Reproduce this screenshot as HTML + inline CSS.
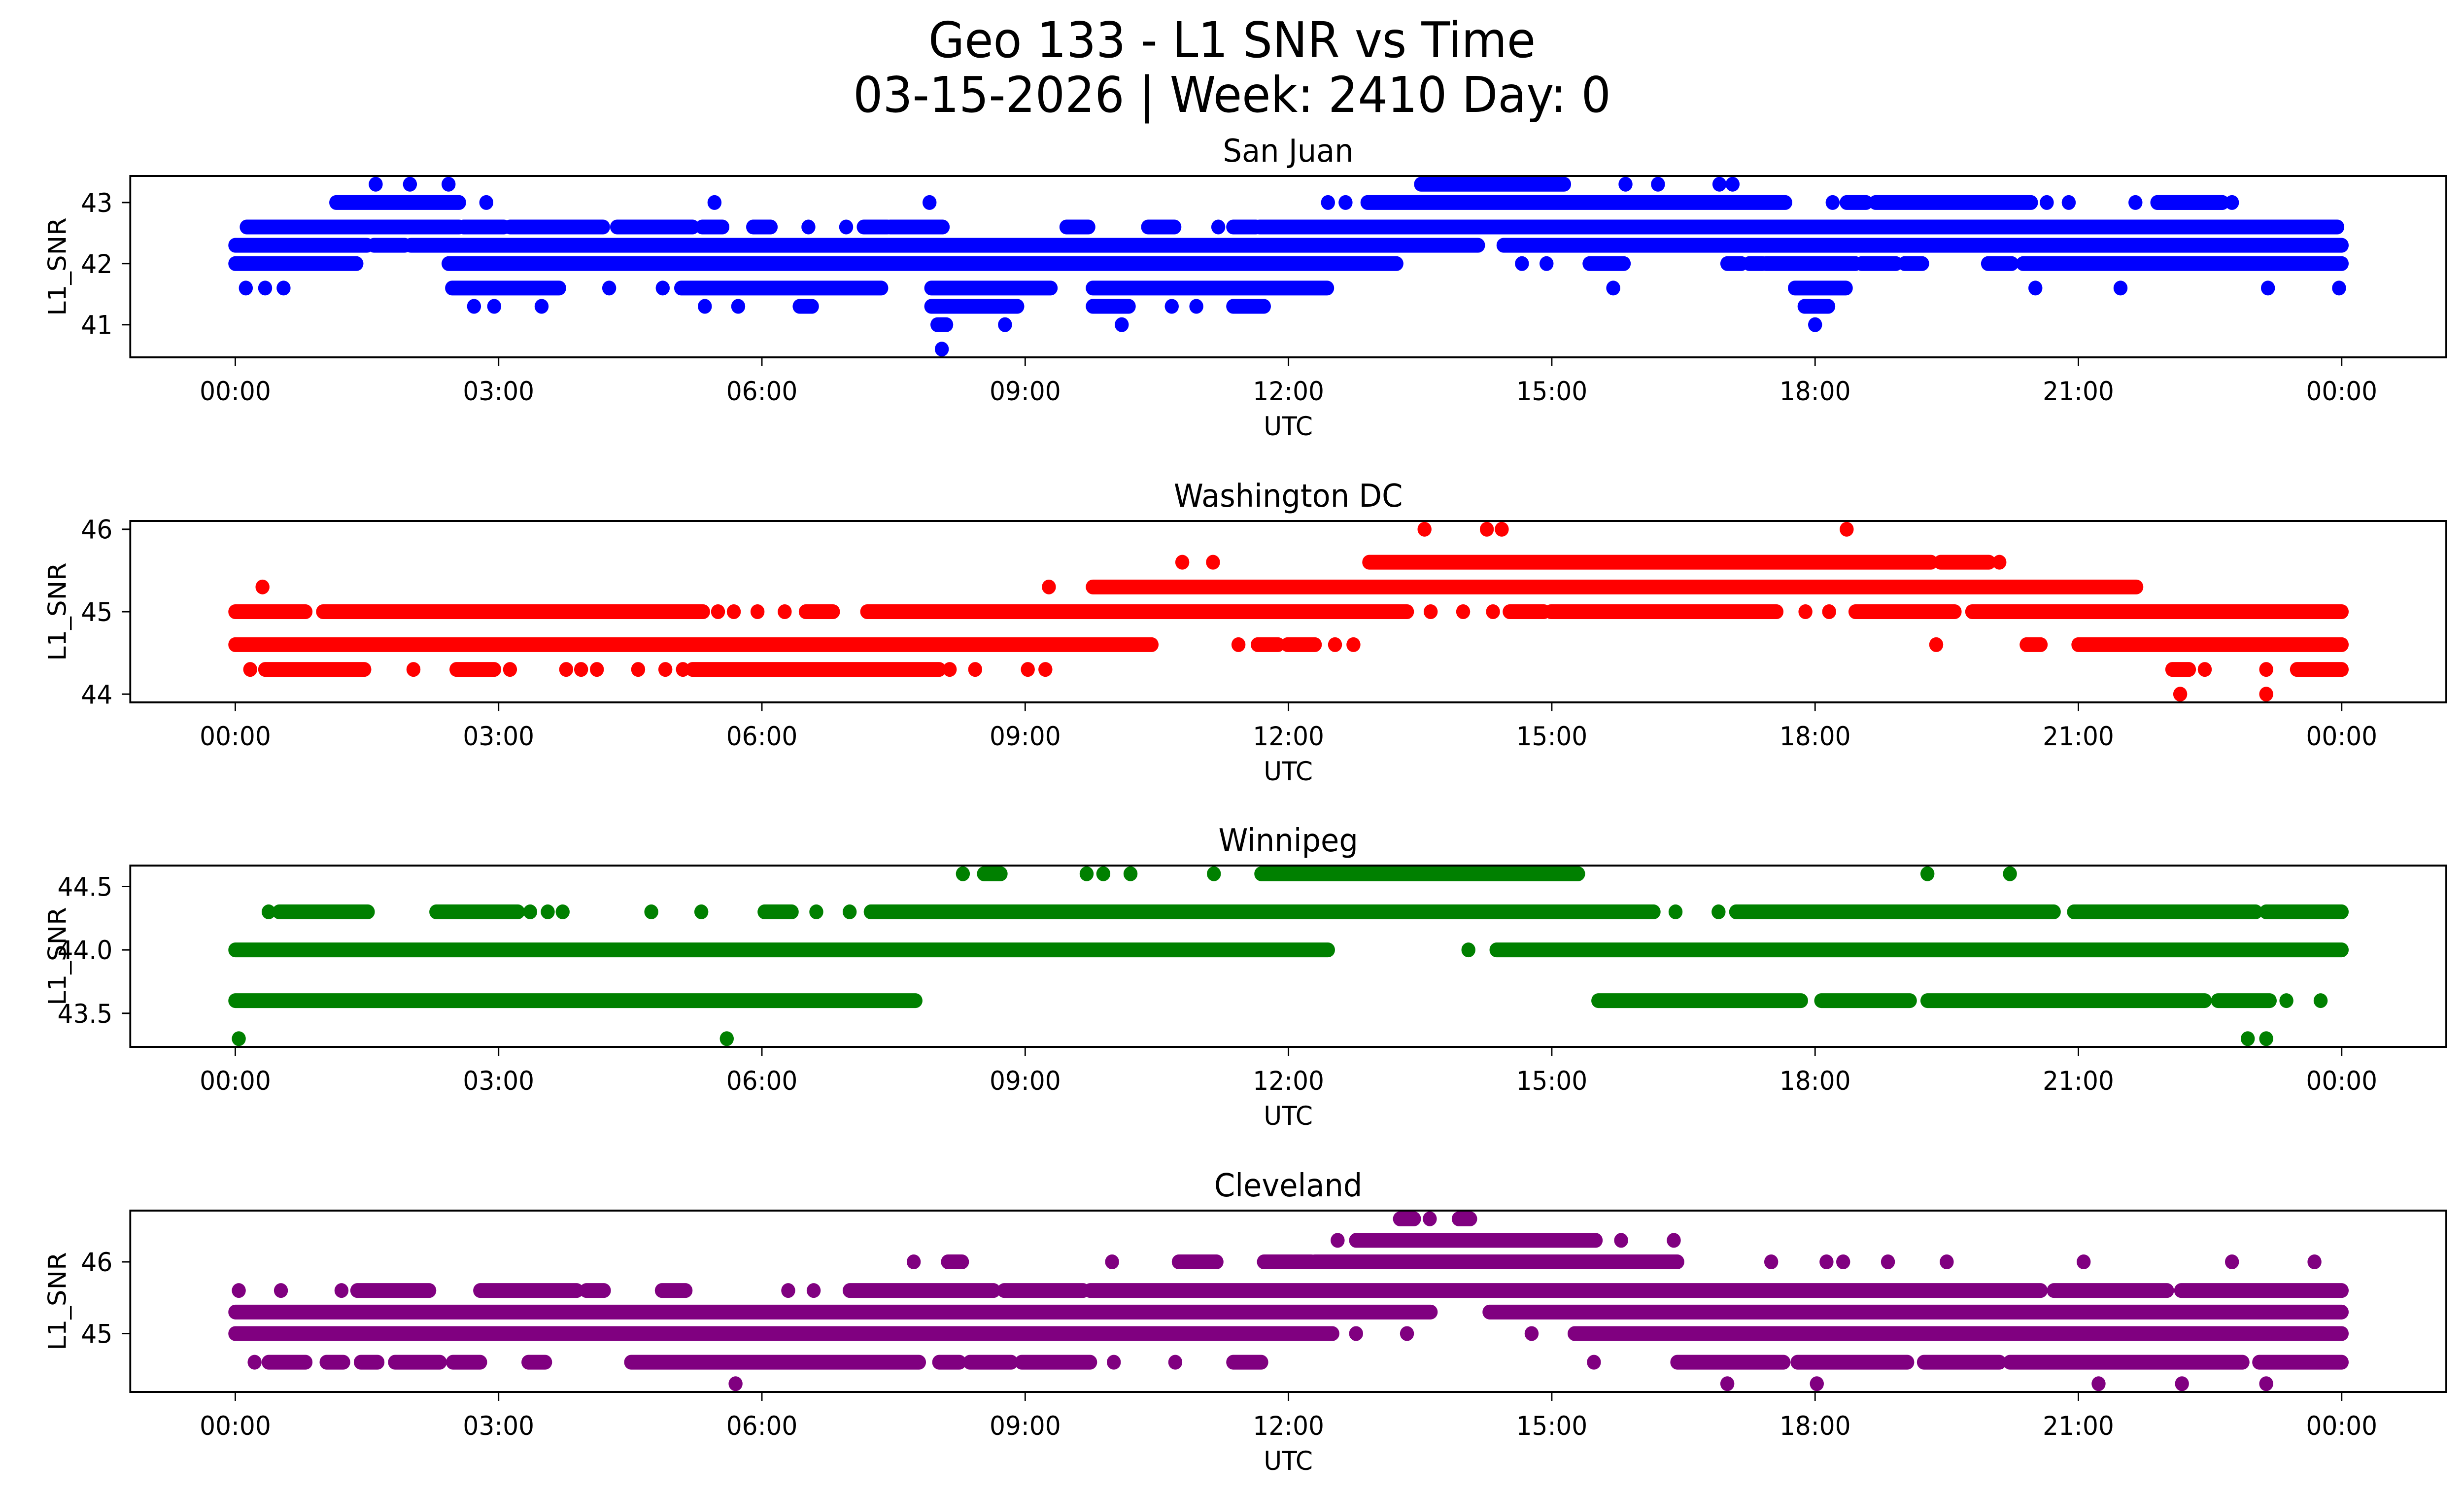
<!DOCTYPE html>
<html><head><meta charset="utf-8"><style>
html,body{margin:0;padding:0;background:#fff;overflow:hidden;width:100%;height:100%;}
svg{display:block;font-family:"DejaVu Sans","Liberation Sans",sans-serif;width:100vw;height:100vh;}
</style></head><body>
<svg id="fig" viewBox="0 0 5278 3033" preserveAspectRatio="none" xmlns="http://www.w3.org/2000/svg">
<rect x="0" y="0" width="5278" height="3033" fill="#fff"/>
<text x="2639" y="116" font-size="100" text-anchor="middle">Geo 133 - L1 SNR vs Time</text>
<text x="2639" y="227" font-size="100" text-anchor="middle">03-15-2026 | Week: 2410 Day: 0</text>
<g id="plots"></g>
</svg>
<script>
// ---- data (hours UTC, L1 SNR) ----
const panelNames = ["San Juan", "Washington DC", "Winnipeg", "Cleveland"];
const panelColors = ["#0000ff", "#ff0000", "#008000", "#800080"];
const xTickHours = [0, 3, 6, 9, 12, 15, 18, 21, 24];
const xTickLabels = ["00:00","03:00","06:00","09:00","12:00","15:00","18:00","21:00","00:00"];

// San Juan
const sjRunLevels = [43.3, 43.0,43.0,43.0,43.0,43.0,43.0, 42.6,42.6,42.6,42.6,42.6,42.6,42.6,42.6,42.6,42.6,42.6,42.6, 42.3,42.3,42.3,42.3, 42.0,42.0,42.0,42.0,42.0,42.0,42.0,42.0,42.0,42.0, 41.6,41.6,41.6,41.6,41.6, 41.3,41.3,41.3,41.3,41.3, 41.0];
const sjRunStarts = [13.51, 1.15,12.9,18.36,18.69,21.9,21.9, 0.13,2.6,3.13,4.35,5.32,5.9,7.16,7.46,9.47,10.4,11.37,11.67, 0,1.58,2.0,14.45, 0,2.43,15.43,17.0,17.25,17.44,18.53,19.02,19.97,20.37, 2.47,5.08,7.93,9.77,17.77, 6.43,7.93,9.77,11.37,17.88, 8.0];
const sjRunEnds   = [15.14, 2.55,17.66,18.58,20.46,22.64,22.64, 2.55,3.06,4.19,5.21,5.55,6.1,7.43,8.06,9.72,10.7,11.63,23.95, 1.5,1.93,14.16,24, 1.38,13.23,15.82,17.16,17.4,18.46,18.92,19.22,20.24,24, 3.69,7.36,9.29,12.44,18.35, 6.57,8.91,10.18,11.72,18.15, 8.1];
const sjPointTimes  = [1.6,1.99,2.43,15.84,16.21,16.91,17.06, 2.86,5.46,7.91,12.45,12.65,18.2,20.64,20.89,21.65,22.75, 6.53,6.96,11.2, 14.66,14.94, 0.12,0.34,0.55,4.26,4.87,15.7,20.51,21.48,23.16,23.97, 2.72,2.95,3.49,5.35,5.73,10.67,10.95, 8.77,10.1,18.0, 8.05];
const sjPointValues = [43.3,43.3,43.3,43.3,43.3,43.3,43.3, 43.0,43.0,43.0,43.0,43.0,43.0,43.0,43.0,43.0,43.0, 42.6,42.6,42.6, 42.0,42.0, 41.6,41.6,41.6,41.6,41.6,41.6,41.6,41.6,41.6,41.6, 41.3,41.3,41.3,41.3,41.3,41.3,41.3, 41.0,41.0,41.0, 40.6];

// Washington DC
const dcRunLevels = [45.6,45.6, 45.3, 45.0,45.0,45.0,45.0,45.0,45.0,45.0,45.0, 44.6,44.6,44.6,44.6,44.6, 44.3,44.3,44.3,44.3,44.3];
const dcRunStarts = [12.92,19.43, 9.77, 0,1.0,6.5,7.2,14.52,14.99,18.46,19.79, 0,11.65,11.99,20.41,21.0, 0.34,2.52,5.21,22.07,23.49];
const dcRunEnds   = [19.32,19.98, 21.66, 0.8,5.33,6.81,13.35,14.91,17.56,19.59,24, 10.44,11.88,12.3,20.57,24, 1.47,2.95,8.02,22.26,24];
const dcPointTimes  = [13.55,14.26,14.43,18.36, 10.79,11.14,20.1, 0.31,9.27, 5.5,5.68,5.95,6.26,13.62,13.99,14.33,17.89,18.16, 11.43,12.53,12.74,19.38, 0.17,2.03,3.13,3.77,3.94,4.12,4.59,4.9,5.1,8.14,8.43,9.03,9.23,22.44,23.14, 22.16,23.14];
const dcPointValues = [46.0,46.0,46.0,46.0, 45.6,45.6,45.6, 45.3,45.3, 45.0,45.0,45.0,45.0,45.0,45.0,45.0,45.0,45.0, 44.6,44.6,44.6,44.6, 44.3,44.3,44.3,44.3,44.3,44.3,44.3,44.3,44.3,44.3,44.3,44.3,44.3,44.3,44.3, 44.0,44.0];

// Winnipeg
const wpRunLevels = [44.6,44.6, 44.3,44.3,44.3,44.3,44.3,44.3,44.3, 44.0,44.0, 43.6,43.6,43.6,43.6,43.6];
const wpRunStarts = [11.69,8.53, 0.5,2.29,6.03,7.24,17.1,20.95,23.14, 0,14.37, 0,15.53,18.07,19.28,22.59];
const wpRunEnds   = [15.3,8.72, 1.51,3.22,6.34,16.16,20.72,23.02,24, 12.45,24, 7.75,17.84,19.08,22.44,23.18];
const wpPointTimes  = [8.29,9.7,9.89,10.2,11.15,19.28,20.22, 0.38,3.36,3.56,3.73,4.74,5.31,6.62,7.0,16.41,16.9, 14.05, 23.37,23.76, 0.04,5.6,22.93,23.14];
const wpPointValues = [44.6,44.6,44.6,44.6,44.6,44.6,44.6, 44.3,44.3,44.3,44.3,44.3,44.3,44.3,44.3,44.3,44.3, 44.0, 43.6,43.6, 43.3,43.3,43.3,43.3];

// Cleveland
const clRunLevels = [46.6,46.6, 46.3, 46.0,46.0,46.0,46.0, 45.6,45.6,45.6,45.6,45.6,45.6,45.6,45.6,45.6, 45.3,45.3, 45.0,45.0, 44.6,44.6,44.6,44.6,44.6,44.6,44.6,44.6,44.6,44.6,44.6,44.6,44.6,44.6,44.6,44.6];
const clRunStarts = [13.27,13.94, 12.77, 8.12,10.75,11.72,12.3, 1.39,2.79,4.0,4.86,7.0,8.76,9.74,20.72,22.17, 0,14.29, 0,15.26, 0.38,1.04,1.43,1.82,2.48,3.34,4.51,8.02,8.37,8.96,11.37,16.43,17.8,19.24,20.22,23.06];
const clRunEnds   = [13.43,14.07, 15.5, 8.28,11.18,12.26,16.43, 2.21,3.89,4.2,5.13,8.64,9.66,20.57,22.01,24, 13.62,24, 12.5,24, 0.8,1.23,1.62,2.33,2.79,3.53,7.79,8.25,8.84,9.74,11.69,17.64,19.05,20.1,22.87,24];
const clPointTimes  = [13.61, 12.56,15.79,16.39, 7.73,9.99,17.5,18.13,18.32,18.83,19.5,21.06,22.75,23.69, 0.04,0.52,1.21,6.3,6.59, 12.77,13.35,14.77, 0.22,10.01,10.71,15.48, 5.7,17.0,18.02,21.23,22.18,23.14];
const clPointValues = [46.6, 46.3,46.3,46.3, 46.0,46.0,46.0,46.0,46.0,46.0,46.0,46.0,46.0,46.0, 45.6,45.6,45.6,45.6,45.6, 45.0,45.0,45.0, 44.6,44.6,44.6,44.6, 44.3,44.3,44.3,44.3,44.3,44.3];

const yTickValues = [[41,42,43],[44,45,46],[43.5,44.0,44.5],[45,46]];
const yTickLabels = [["41","42","43"],["44","45","46"],["43.5","44.0","44.5"],["45","46"]];

const runLevelsAll = [sjRunLevels, dcRunLevels, wpRunLevels, clRunLevels];
const runStartsAll = [sjRunStarts, dcRunStarts, wpRunStarts, clRunStarts];
const runEndsAll = [sjRunEnds, dcRunEnds, wpRunEnds, clRunEnds];
const pointTimesAll = [sjPointTimes, dcPointTimes, wpPointTimes, clPointTimes];
const pointValuesAll = [sjPointValues, dcPointValues, wpPointValues, clPointValues];

// ---- layout ----
const NS = "http://www.w3.org/2000/svg";
const AX_L = 279, AX_R = 5240, AX_H = 368;
const TOPS = [357, 1057, 1756, 2456];
const X0 = 504, PX_PER_H = 188;
function xScale(h){ return X0 + h * PX_PER_H; }
function dataExtent(p){
  const vals = runLevelsAll[p].concat(pointValuesAll[p]);
  let mn = Math.min.apply(null, vals), mx = Math.max.apply(null, vals);
  const m = (mx - mn) * 0.05;
  return [mn - m, mx + m];
}
function yScaleFor(p){
  const ext = dataExtent(p), top = TOPS[p];
  return v => top + (ext[1] - v) / (ext[1] - ext[0]) * AX_H;
}
function mk(tag, attrs, parent){
  const e = document.createElementNS(NS, tag);
  for (const k in attrs) e.setAttribute(k, attrs[k]);
  parent.appendChild(e);
  return e;
}
const root = document.getElementById("plots");
const R = 15;

for (let p = 0; p < 4; p++){
  const top = TOPS[p], bot = top + AX_H, y = yScaleFor(p), col = panelColors[p];
  const g = mk("g", {}, root);
  
  

  const title = mk("text", {x:(AX_L+AX_R)/2, y: top - 29, "font-size": 64, "text-anchor": "middle"}, g);
  title.textContent = panelNames[p];
  
  

  const series = mk("g", {fill: col, stroke: col}, g);
  
  
  const lv = runLevelsAll[p], rs = runStartsAll[p], re = runEndsAll[p];
  for (let i = 0; i < lv.length; i++){
    const ln = mk("line", {x1: xScale(rs[i]), x2: xScale(re[i]), y1: y(lv[i]), y2: y(lv[i]), "stroke-width": 2*R, "stroke-linecap": "round"}, series);
    
    
  }
  const pt = pointTimesAll[p], pv = pointValuesAll[p];
  for (let i = 0; i < pt.length; i++){
    const c = mk("circle", {cx: xScale(pt[i]), cy: y(pv[i]), r: R, stroke: "none"}, series);
    
    
  }

  const frame = mk("rect", {x: AX_L, y: top, width: AX_R-AX_L, height: AX_H, fill: "none", stroke: "#000", "stroke-width": 4}, g);
  
  

  for (let i = 0; i < xTickHours.length; i++){
    const tx = xScale(xTickHours[i]);
    const tk = mk("line", {x1: tx, x2: tx, y1: bot, y2: bot + 18, stroke: "#000", "stroke-width": 3}, g);
    
    
    const tl = mk("text", {x: tx, y: bot + 87, "font-size": 53, "text-anchor": "middle"}, g);
    tl.textContent = xTickLabels[i];
    
    
  }
  const xl = mk("text", {x: (AX_L+AX_R)/2, y: bot + 158, "font-size": 53, "text-anchor": "middle"}, g);
  xl.textContent = "UTC";
  
  

  const yt = yTickValues[p], ytl = yTickLabels[p];
  for (let i = 0; i < yt.length; i++){
    const ty = y(yt[i]);
    const tk = mk("line", {x1: AX_L - 18, x2: AX_L, y1: ty, y2: ty, stroke: "#000", "stroke-width": 3}, g);
    
    
    const tl = mk("text", {x: AX_L - 38, y: ty + 19, "font-size": 53, "text-anchor": "end"}, g);
    tl.textContent = ytl[i];
    
    
  }
  const cy = top + AX_H/2;
  const yl = mk("text", {x: 0, y: 0, "font-size": 53, "text-anchor": "middle", transform: "translate(141," + cy + ") rotate(-90)"}, g);
  yl.textContent = "L1_SNR";
  
  
}
</script>
</body></html>
